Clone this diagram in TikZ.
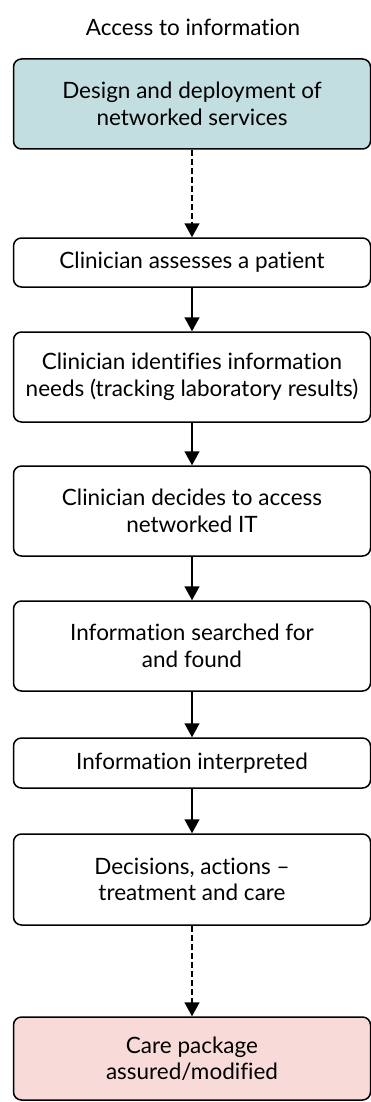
\documentclass[tikz,border=0pt]{standalone}
\usepackage{fontspec}
\setmainfont{Lato}[Ligatures={NoCommon}]
\usepackage{xcolor}
\usetikzlibrary{arrows.meta}
\definecolor{designfill}{RGB}{195,222,224}
\definecolor{carefill}{RGB}{248,219,217}

\begin{document}
\begin{tikzpicture}[x=1pt, y=-1pt, >={Triangle[length=14pt, width=15pt]},
    every node/.style={font=\fontsize{22.5}{26.5}\selectfont},
    flowbox/.style={draw, line width=1.5pt, rounded corners=8pt, align=center, minimum width=357pt, inner sep=0pt},
    link/.style={->, line width=1.5pt}]
  \useasboundingbox (0,0) rectangle (371,1102);
  \node (T) at (193,27) {Access to information};
  \node[flowbox, fill=designfill, minimum height=90pt] (D) at (192,104) {Design and deployment of\\networked services};
  \node[flowbox, minimum height=49pt] (A) at (192,262.5) {Clinician assesses a patient};
  \node[flowbox, minimum height=90pt] (N) at (192,377) {Clinician identifies information\\needs (tracking laboratory results)};
  \node[flowbox, minimum height=90pt] (C) at (192,511) {Clinician decides to access\\networked IT};
  \node[flowbox, minimum height=90pt] (S) at (192,646) {Information searched for\\and found};
  \node[flowbox, minimum height=50pt] (I) at (192,763) {Information interpreted};
  \node[flowbox, minimum height=91pt] (R) at (192,879.5) {Decisions, actions --\\treatment and care};
  \node[flowbox, fill=carefill, minimum height=83pt] (P) at (192,1058.5) {Care package\\assured/modified};
  \draw[link, dash pattern=on 6pt off 3pt] (D) -- (A);
  \draw[link] (A) -- (N);
  \draw[link] (N) -- (C);
  \draw[link] (C) -- (S);
  \draw[link] (S) -- (I);
  \draw[link] (I) -- (R);
  \draw[link, dash pattern=on 6pt off 3pt] (R) -- (P);
\end{tikzpicture}
\end{document}
